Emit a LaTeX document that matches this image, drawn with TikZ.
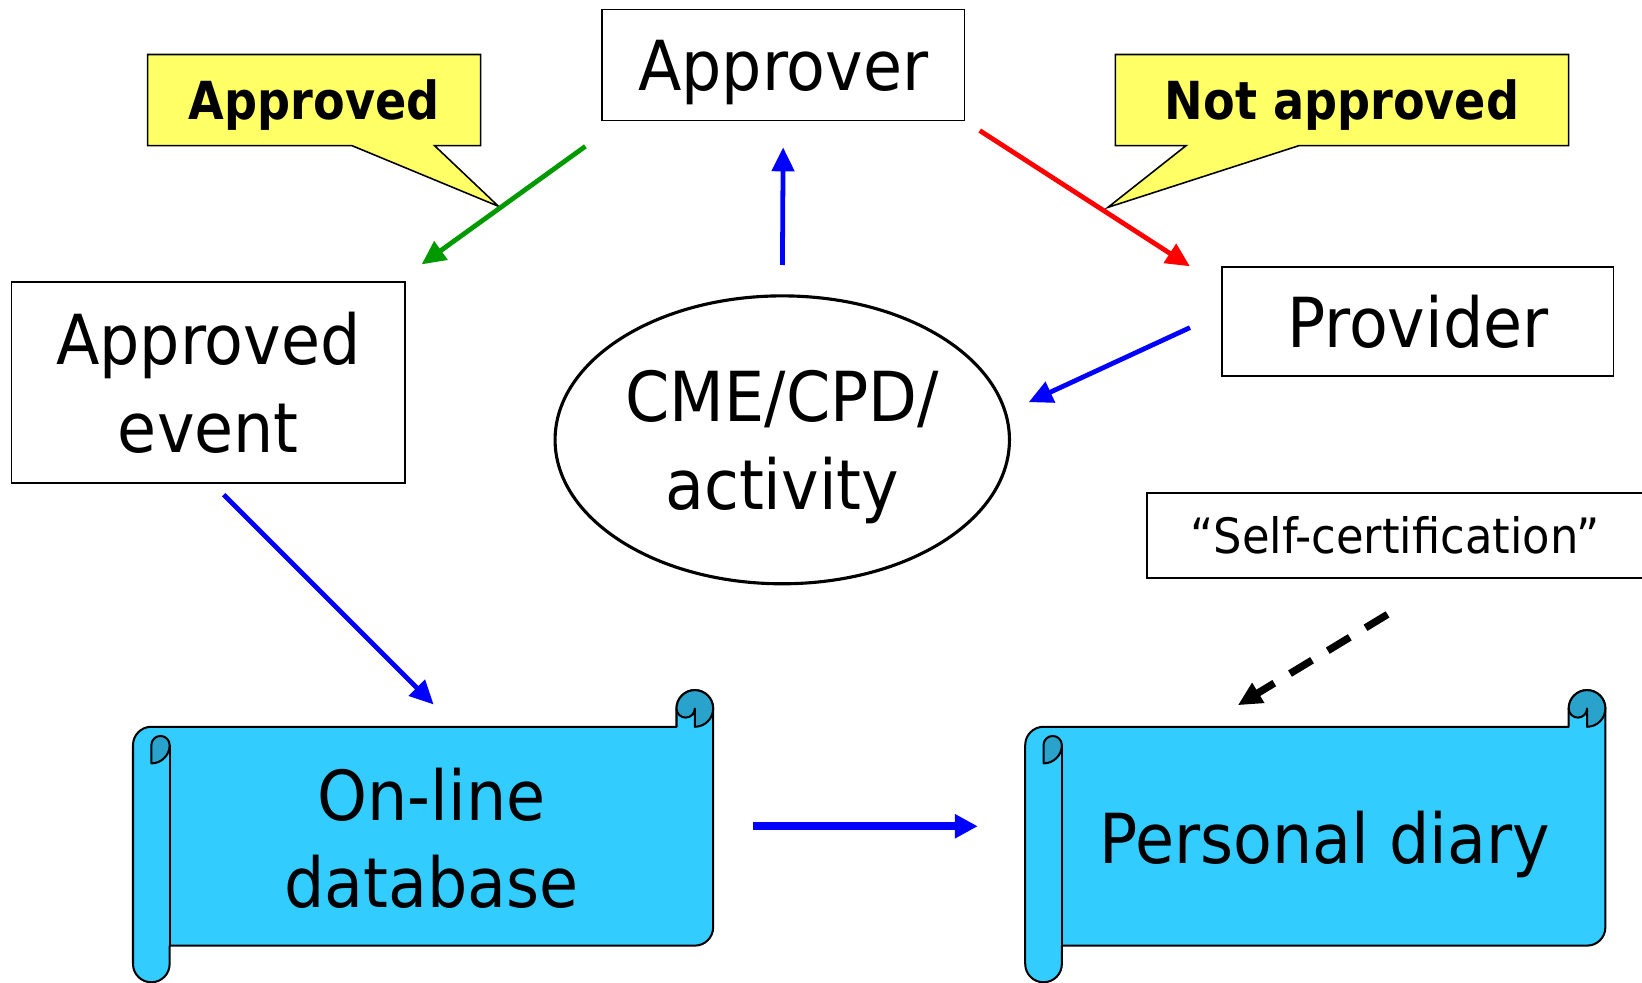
\documentclass[tikz,border=0pt]{standalone}
\usepackage{fontspec}
\setmainfont{DejaVu Sans}[FakeStretch=0.92]
\newfontfamily\calloutfont{DejaVu Sans}[FakeStretch=0.88]
\usetikzlibrary{arrows.meta,shapes.geometric,shapes.callouts}

\definecolor{scrollblue}{RGB}{51,204,255}
\definecolor{scrolldark}{RGB}{41,163,204}
\definecolor{calloutyellow}{RGB}{255,255,102}
\definecolor{arrowgreen}{RGB}{0,153,0}

\newcommand{\curlr}{0.35cm}
% #1 left, #2 right, #3 top of the curl, #4 bottom of the roll
\newcommand{\drawscroll}[4]{%
  \draw[scroll] (#1,#3+52.5) arc[start angle=180, end angle=90, radius=\curlr]
    -- (#2-35,#3+35) -- (#2-35,#3+17.5) arc[start angle=180, end angle=0, radius=\curlr]
    -- (#2,#4-52.5) arc[start angle=0, end angle=-90, radius=\curlr]
    -- (#1+35,#4-35) -- (#1+35,#4-17.5) arc[start angle=0, end angle=-180, radius=\curlr] -- cycle;
  \draw[scroll line] (#1+35,#3+52.5) -- (#1+35,#4-35);
  \draw[scroll line, fill=scrolldark] (#2-17.5,#3+35) arc[start angle=-90, end angle=180, radius=\curlr]
    arc[start angle=180, end angle=360, radius=\curlr/2] -- cycle;
  \draw[scroll line, fill=scrolldark] (#1+17.5,#3+70) -- (#1+17.5,#3+52.5)
    arc[start angle=180, end angle=0, radius=\curlr/2]
    arc[start angle=0, end angle=-90, radius=\curlr] -- cycle;
}

\tikzset{
  box/.style={draw, line width=0.85pt, fill=white, inner sep=0pt},
  bigtext/.style={font=\fontsize{37.5}{47.5}\selectfont, text depth=0pt},
  callout/.style={rectangle callout, draw, line width=0.85pt, fill=calloutyellow, text depth=0pt,
    font=\calloutfont\bfseries\fontsize{28.5}{34}\selectfont, inner sep=0pt},
  scroll/.style={draw, line width=1.1pt, line join=round, fill=scrollblue},
  scroll line/.style={line width=1.1pt, line join=round},
  flow/.style={line width=2.6pt, -{Triangle[length=13pt,width=12pt]}},
}

\begin{document}
\begin{tikzpicture}[x=0.02cm, y=-0.02cm]
  \useasboundingbox (0,0) rectangle (1568,938);

  \drawscroll{127}{681}{659}{938}
  \drawscroll{979}{1533}{659}{938}

  \node[box, bigtext, minimum width=6.92cm, minimum height=2.12cm] (approver) at (748,62) {Approver};
  \node[box, bigtext, minimum width=7.48cm, minimum height=2.08cm] (provider) at (1354,307) {Provider};
  \node[box, bigtext, align=center, minimum width=7.52cm, minimum height=3.84cm] (event) at (199,365) {Approved\\event};
  \node[ellipse, draw, line width=1.7pt, bigtext, align=center, inner xsep=-0.2cm, inner ysep=0pt,
    minimum width=8.68cm, minimum height=5.5cm] (cme) at (747,420) {CME/CPD/\\activity};
  \node[box, font=\fontsize{26.5}{32}\selectfont, minimum width=9.48cm, minimum height=1.62cm] (selfcert) at (1332,511.5) {“Self-certification”};

  \node[callout, minimum width=6.36cm, minimum height=1.74cm, callout absolute pointer={(476,197)},
    callout pointer width=1.58cm] (okcall) at (300,95.5) {Approved};
  \node[callout, minimum width=8.66cm, minimum height=1.74cm, callout absolute pointer={(1058,198)},
    callout pointer width=2.16cm] (nocall) at (1281.5,95.5) {Not approved};

  \node[bigtext, align=center, minimum width=11.08cm, minimum height=4.2cm] (online) at (412,800) {On-line\\database};
  \node[bigtext, minimum width=11.08cm, minimum height=4.2cm] (diary) at (1265,800) {Personal diary};

  \draw[flow, arrowgreen, shorten <=0.82cm, shorten >=0.54cm] ([xshift=0.36cm]approver.south west) -- ([xshift=-0.14cm]event.north east);
  \draw[flow, blue, shorten <=0.56cm, shorten >=0.5cm] (cme.north) -- (approver.south);
  \draw[flow, red, shorten <=0.33cm] (approver.south east) -- ([xshift=-0.6cm]provider.north west);
  \draw[flow, blue, shorten <=0.66cm, shorten >=0.46cm] ([yshift=0.16cm]provider.west) -- (cme.7);
  \draw[flow, blue, shorten <=0.3cm, shorten >=0.62cm] ([xshift=0.08cm]event.south) -- ([xshift=0.48cm]online.north);
  \draw[blue, line width=4.3pt, -{Triangle[length=12.5pt,width=12.5pt]}, shorten <=0.6cm, shorten >=1.08cm]
    ([yshift=0.22cm]online.east) -- ([yshift=0.22cm]diary.west);
  \draw[line width=4pt, dash pattern=on 14pt off 10pt, -{Triangle[length=13pt,width=12pt]}, shorten <=1.31cm, shorten >=0.82cm]
    ([xshift=0.98cm]selfcert.south) -- ([xshift=-2.36cm]diary.north);
\end{tikzpicture}
\end{document}
